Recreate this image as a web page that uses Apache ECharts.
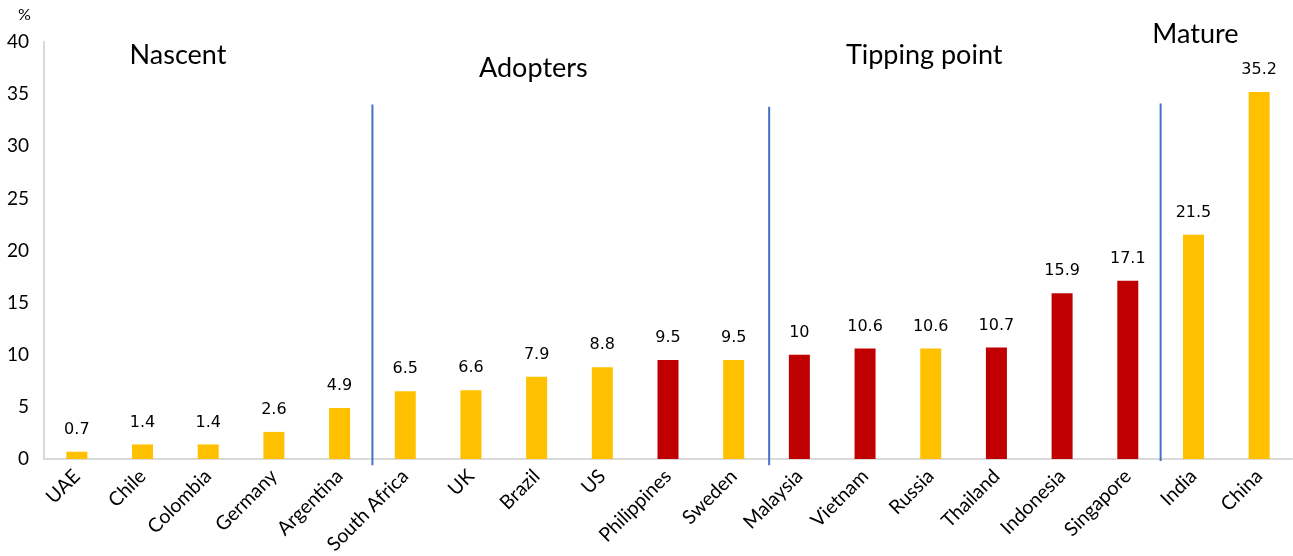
<!DOCTYPE html>
<html>
<head>
<meta charset="utf-8">
<script src="https://cdn.jsdelivr.net/npm/echarts@6/dist/echarts.min.js"></script>
<style>
  html, body { margin: 0; padding: 0; background: #fff; }
  #chart { width: 1293px; height: 556px; }
</style>
</head>
<body>
<div id="chart"></div>
<script>
// Countries, ordered by share (%)
const countries = ['UAE', 'Chile', 'Colombia', 'Germany', 'Argentina', 'South Africa', 'UK', 'Brazil', 'US',
  'Philippines', 'Sweden', 'Malaysia', 'Vietnam', 'Russia', 'Thailand', 'Indonesia', 'Singapore', 'India', 'China'];
const shares = [0.7, 1.4, 1.4, 2.6, 4.9, 6.5, 6.6, 7.9, 8.8, 9.5, 9.5, 10, 10.6, 10.6, 10.7, 15.9, 17.1, 21.5, 35.2];
// 'r' marks the highlighted (red) countries, 'y' the rest
const colorGroup = ['y', 'y', 'y', 'y', 'y', 'y', 'y', 'y', 'y', 'r', 'y', 'r', 'r', 'y', 'r', 'r', 'r', 'y', 'y'];

// Stage dividers: position in category bands from the left edge, top and bottom value
const dividerAt = [5, 11.04, 17];
const dividerTop = [34, 33.8, 34.1];
const dividerBottom = [-0.6, -0.6, -0.2];

// Stage titles: name, centre position in category bands from the left edge, value position
const stageNames = ['Nascent', 'Adopters', 'Tipping point', 'Mature'];
const stageX = [2.04, 7.45, 13.4, 17.53];
const stageY = [38.7, 37.5, 38.7, 40.7];

const yTicks = { min: 0, max: 40, interval: 5 };

const palette = { y: '#FFC000', r: '#C00000' };

const chart = echarts.init(document.getElementById('chart'));

// pixel x of a fractional band position, measured from the axis start
function bandX(api, pos) {
  const band = api.size([1, 0])[0];
  return api.coord([0, 0])[0] - band / 2 + pos * band;
}

chart.setOption({
  animation: false,
  grid: { left: 44, right: 1, top: 42, bottom: 97, containLabel: false, outerBoundsMode: 'none' },
  xAxis: {
    type: 'category',
    data: countries,
    axisLine: { lineStyle: { color: '#d9d9d9', width: 2 } },
    axisTick: { show: false },
    axisLabel: {
      rotate: 45,
      interval: 0,
      margin: 14,
      color: '#000',
      fontSize: 19.5,
      fontFamily: 'Lato'
    }
  },
  yAxis: {
    type: 'value',
    min: yTicks.min,
    max: yTicks.max,
    interval: yTicks.interval,
    axisLine: { show: true, lineStyle: { color: '#d9d9d9', width: 2 } },
    axisTick: { show: false },
    splitLine: { show: false },
    axisLabel: { color: '#000', fontSize: 19, fontFamily: 'Lato', margin: 15 }
  },
  graphic: [{
    type: 'text',
    left: 18, top: 7,
    style: { text: '%', fontSize: 16, fontFamily: 'Lato', fill: '#000' }
  }],
  series: [
    {
      type: 'bar',
      barWidth: 21,
      data: shares.map((v, i) => ({ value: v, itemStyle: { color: palette[colorGroup[i]] } })),
      label: {
        show: true,
        position: 'top',
        distance: 14,
        color: '#000',
        fontSize: 16,
        fontFamily: 'DejaVu Sans'
      }
    },
    {
      // vertical dividers between stages
      type: 'custom',
      clip: false,
      silent: true,
      data: dividerAt.map((c, i) => [c, dividerTop[i], dividerBottom[i]]),
      renderItem: function (params, api) {
        const x = bandX(api, api.value(0));
        const y1 = api.coord([0, api.value(1)])[1];
        const y2 = api.coord([0, api.value(2)])[1];
        return {
          type: 'line',
          shape: { x1: x, y1: y1, x2: x, y2: y2 },
          style: { stroke: '#4472C4', lineWidth: 2 }
        };
      }
    },
    {
      // stage titles
      type: 'custom',
      clip: false,
      silent: true,
      data: stageNames.map((n, i) => [stageX[i], stageY[i]]),
      renderItem: function (params, api) {
        const x = bandX(api, api.value(0));
        const y = api.coord([0, api.value(1)])[1];
        return {
          type: 'text',
          x: x, y: y,
          style: {
            text: stageNames[params.dataIndex],
            fontSize: 27,
            fontFamily: 'Lato',
            fill: '#000',
            align: 'center',
            verticalAlign: 'middle'
          }
        };
      }
    }
  ]
});
</script>
</body>
</html>
